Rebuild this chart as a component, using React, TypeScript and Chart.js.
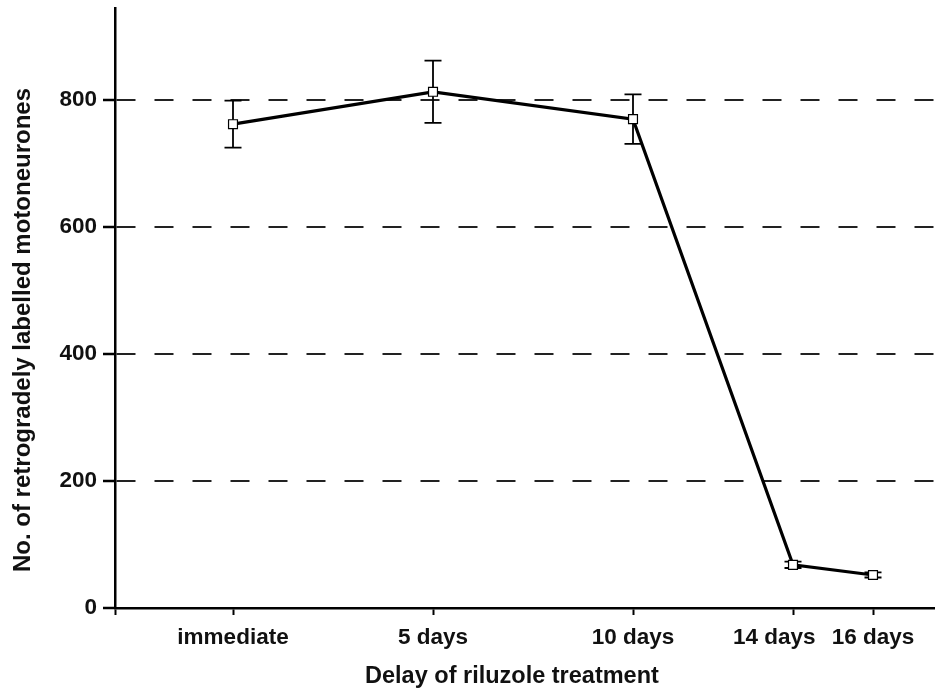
import React, { useEffect, useRef } from "react";
import { Chart, registerables } from "chart.js";

Chart.register(...registerables);

// ---- data ----
const categories = ["immediate", "5 days", "10 days", "14 days", "16 days"];
const delayDays = [0, 5, 10, 14, 16];
const meanCounts = [762, 813, 770, 68, 52];
const errorCounts = [37, 49, 39, 5, 4];
const yTickValues = [0, 200, 400, 600, 800];
const xAxisTitle = "Delay of riluzole treatment";
const yAxisTitle = "No. of retrogradely labelled motoneurones";

const FONT = "'Liberation Sans', Arial, Helvetica, sans-serif";

const errorBarPlugin = {
  id: "errorBars",
  beforeDatasetsDraw(chart: any) {
    const { ctx, scales } = chart;
    const xs = scales.x;
    const ys = scales.y;
    ctx.save();
    ctx.strokeStyle = "#000";
    ctx.lineWidth = 1.8;
    const cap = 8.5;
    for (let i = 0; i < delayDays.length; i++) {
      const px = xs.getPixelForValue(delayDays[i]);
      const top = ys.getPixelForValue(meanCounts[i] + errorCounts[i]);
      const bot = ys.getPixelForValue(meanCounts[i] - errorCounts[i]);
      ctx.beginPath();
      ctx.moveTo(px, top);
      ctx.lineTo(px, bot);
      ctx.moveTo(px - cap, top);
      ctx.lineTo(px + cap, top);
      ctx.moveTo(px - cap, bot);
      ctx.lineTo(px + cap, bot);
      ctx.stroke();
    }
    ctx.restore();
  },
};

const yTitlePlugin = {
  id: "yTitle",
  afterDraw(chart: any) {
    const { ctx, chartArea } = chart;
    ctx.save();
    ctx.fillStyle = "#111";
    ctx.font = `bold 24px ${FONT}`;
    ctx.textAlign = "center";
    ctx.textBaseline = "middle";
    ctx.translate(23, (chartArea.top + chartArea.bottom) / 2 + 22);
    ctx.rotate(-Math.PI / 2);
    ctx.fillText(yAxisTitle, 0, 0);
    ctx.restore();
  },
};

export default function App() {
  const ref = useRef<HTMLCanvasElement | null>(null);

  useEffect(() => {
    if (!ref.current) return;
    const xMin = -2.95;
    const xMax = 17.55;
    const chart = new Chart(ref.current, {
      type: "line",
      data: {
        datasets: [
          {
            label: "motoneurones",
            data: delayDays.map((d, i) => ({ x: d, y: meanCounts[i] })),
            borderColor: "#000",
            borderWidth: 3.2,
            tension: 0,
            pointStyle: "rect",
            pointRadius: 6.3,
            pointBackgroundColor: "#fff",
            pointBorderColor: "#000",
            pointBorderWidth: 1.2,
          },
        ],
      },
      options: {
        responsive: false,
        animation: false,
        devicePixelRatio: 1,
        layout: { autoPadding: false, padding: { top: 8, right: 0, left: 0, bottom: 0 } },
        plugins: {
          legend: { display: false },
          tooltip: { enabled: false },
        },
        scales: {
          x: {
            type: "linear",
            min: xMin,
            max: xMax,
            afterFit(scale: any) {
              scale.height = 83;
              scale.paddingLeft = 0;
              scale.paddingRight = 0;
            },
            afterBuildTicks(scale: any) {
              scale.ticks = [xMin, ...delayDays].map((v) => ({ value: v }));
            },
            ticks: {
              autoSkip: false,
              maxRotation: 0,
              padding: 9,
              color: "#111",
              font: { family: FONT, size: 22.5, weight: "bold" },
              callback(value: any) {
                const idx = delayDays.indexOf(Number(value));
                if (idx < 0) return "";
                // crowded neighbour labels: nudge the first of the pair leftwards
                return idx === 3 ? categories[idx] + "      " : categories[idx];
              },
            },
            grid: {
              drawOnChartArea: false,
              drawTicks: true,
              tickLength: 7,
              tickColor: "#000",
              tickWidth: 2,
            },
            border: { display: true, color: "#000", width: 2.5 },
            title: {
              display: true,
              // trailing spaces nudge the centred title slightly left, as in the original
              text: xAxisTitle + "    ",
              color: "#111",
              font: { family: FONT, size: 23.5, weight: "bold" },
              padding: { top: 0, bottom: 0 },
            },
          },
          y: {
            type: "linear",
            min: 0,
            max: 945,
            afterFit(scale: any) {
              scale.width = 115;
              scale.paddingTop = 0;
              scale.paddingBottom = 0;
            },
            afterBuildTicks(scale: any) {
              scale.ticks = yTickValues.map((v) => ({ value: v }));
            },
            ticks: {
              padding: 6,
              color: "#111",
              font: { family: FONT, size: 22.5, weight: "bold" },
            },
            grid: {
              color: "#222",
              lineWidth: 2,
              drawTicks: true,
              tickLength: 12,
              tickColor: "#000",
              tickWidth: 2.5,
              borderDash: [19, 19],
            } as any,
            border: { display: true, color: "#000", width: 2.5, dash: [19, 19] } as any,
            title: { display: false },
          },
        },
      },
      plugins: [errorBarPlugin, yTitlePlugin],
    } as any);
    return () => chart.destroy();
  }, []);

  return (
    <div style={{ position: "absolute", left: 0, top: 0, width: 935, height: 691, background: "#fff" }}>
      <canvas ref={ref} width={935} height={691} style={{ display: "block", width: 935, height: 691 }} />
    </div>
  );
}
